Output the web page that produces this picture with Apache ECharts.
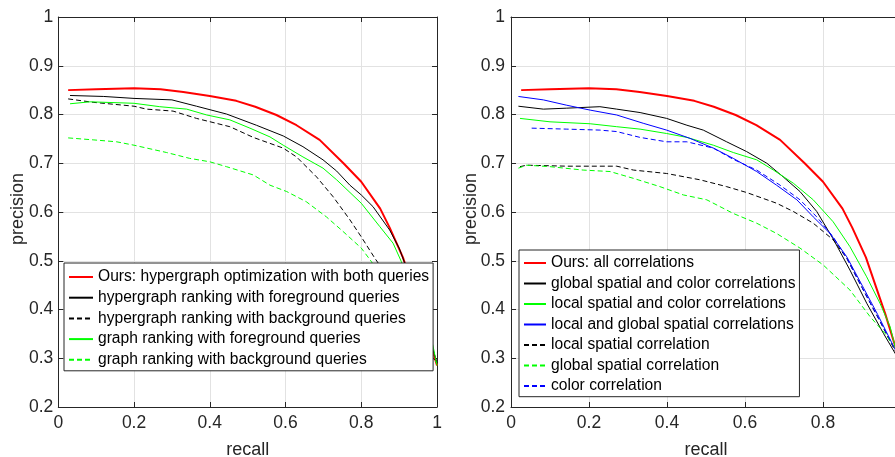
<!DOCTYPE html>
<html><head><meta charset="utf-8">
<script src="https://cdn.jsdelivr.net/npm/echarts/dist/echarts.min.js"></script>
<style>html,body{margin:0;padding:0;background:#fff}#c{width:895px;height:457px}</style>
</head><body><div id="c"></div>
<script>
// ---- data: [recall, precision] pairs ----
const oursBoth = [[0.026,0.850],[0.10,0.852],[0.2,0.854],[0.27,0.852],[0.33,0.846],[0.40,0.838],[0.47,0.828],[0.52,0.816],[0.576,0.799],[0.629,0.778],[0.69,0.748],[0.753,0.70],[0.80,0.662],[0.85,0.607],[0.875,0.568],[0.91,0.507],[0.96,0.39],[0.985,0.325],[1.0,0.285]];
const hyperFg = [[0.031,0.839],[0.12,0.837],[0.2,0.833],[0.30,0.830],[0.365,0.817],[0.444,0.801],[0.523,0.778],[0.594,0.756],[0.646,0.734],[0.699,0.707],[0.735,0.684],[0.77,0.655],[0.80,0.635],[0.831,0.611],[0.875,0.563],[0.90,0.526],[0.915,0.495],[0.95,0.41],[0.985,0.33],[1.0,0.29]];
const hyperBg = [[0.026,0.832],[0.092,0.825],[0.2,0.817],[0.233,0.811],[0.303,0.807],[0.365,0.792],[0.453,0.775],[0.515,0.753],[0.594,0.731],[0.629,0.713],[0.682,0.672],[0.726,0.631],[0.77,0.584],[0.80,0.549],[0.836,0.505],[0.845,0.495],[0.90,0.41],[0.95,0.34],[1.0,0.29]];
const graphFg = [[0.031,0.822],[0.084,0.826],[0.2,0.823],[0.268,0.816],[0.339,0.811],[0.392,0.799],[0.453,0.789],[0.506,0.772],[0.559,0.754],[0.594,0.737],[0.646,0.713],[0.699,0.69],[0.735,0.666],[0.80,0.618],[0.849,0.570],[0.884,0.536],[0.906,0.498],[0.95,0.41],[0.989,0.327],[1.0,0.285]];
const graphBg = [[0.026,0.752],[0.092,0.748],[0.154,0.744],[0.2,0.737],[0.286,0.722],[0.347,0.710],[0.40,0.703],[0.444,0.693],[0.515,0.676],[0.559,0.655],[0.603,0.642],[0.655,0.621],[0.708,0.590],[0.752,0.560],[0.80,0.526],[0.827,0.498],[0.90,0.40],[0.95,0.34],[1.0,0.29]];

const oursAll = oursBoth;
const globalSpatialColor = [[0.019,0.817],[0.083,0.811],[0.143,0.813],[0.228,0.816],[0.271,0.811],[0.331,0.804],[0.399,0.792],[0.451,0.778],[0.493,0.768],[0.553,0.744],[0.604,0.724],[0.656,0.700],[0.698,0.672],[0.741,0.642],[0.784,0.601],[0.826,0.545],[0.869,0.481],[0.912,0.413],[0.955,0.351],[0.985,0.310],[1.0,0.29]];
const localSpatialColor = [[0.023,0.792],[0.1,0.785],[0.203,0.781],[0.271,0.775],[0.331,0.770],[0.399,0.761],[0.451,0.753],[0.519,0.737],[0.57,0.722],[0.63,0.707],[0.673,0.686],[0.724,0.659],[0.775,0.625],[0.826,0.580],[0.869,0.529],[0.912,0.467],[0.946,0.413],[0.972,0.365],[0.985,0.324],[1.0,0.30]];
const localGlobalSpatial = [[0.019,0.837],[0.083,0.830],[0.143,0.819],[0.203,0.809],[0.271,0.799],[0.339,0.782],[0.399,0.768],[0.459,0.751],[0.519,0.731],[0.57,0.710],[0.63,0.683],[0.681,0.655],[0.733,0.625],[0.775,0.590],[0.818,0.556],[0.861,0.508],[0.90,0.45],[0.94,0.39],[0.985,0.318],[1.0,0.295]];
const localSpatial = [[0.023,0.693],[0.04,0.696],[0.143,0.694],[0.271,0.694],[0.314,0.686],[0.399,0.679],[0.485,0.666],[0.553,0.652],[0.604,0.640],[0.681,0.618],[0.724,0.601],[0.775,0.577],[0.826,0.543],[0.861,0.505],[0.90,0.445],[0.94,0.385],[0.985,0.315],[1.0,0.29]];
const globalSpatial = [[0.019,0.690],[0.04,0.696],[0.1,0.693],[0.185,0.686],[0.254,0.683],[0.314,0.669],[0.382,0.652],[0.442,0.635],[0.502,0.625],[0.57,0.597],[0.63,0.577],[0.681,0.556],[0.741,0.526],[0.801,0.491],[0.869,0.440],[0.921,0.385],[0.96,0.35],[0.985,0.32],[1.0,0.30]];
const colorCorr = [[0.053,0.772],[0.143,0.770],[0.228,0.768],[0.271,0.765],[0.331,0.753],[0.399,0.744],[0.451,0.744],[0.519,0.731],[0.57,0.708],[0.63,0.686],[0.69,0.655],[0.741,0.625],[0.784,0.590],[0.826,0.549],[0.861,0.505],[0.90,0.445],[0.94,0.385],[0.985,0.318],[1.0,0.295]];

const leftNames = ['Ours: hypergraph optimization with both queries','hypergraph ranking with foreground queries','hypergraph ranking with background queries','graph ranking with foreground queries','graph ranking with background queries'];
const rightNames = ['Ours: all correlations','global spatial and color correlations','local spatial and color correlations','local and global spatial correlations','local spatial correlation','global spatial correlation','color correlation'];
const xTicks = ['0','0.2','0.4','0.6','0.8','1'];
const yTicks = ['0.2','0.3','0.4','0.5','0.6','0.7','0.8','0.9','1'];
const xTitle = 'recall';
const yTitle = 'precision';

// ---- styling ----
const FONT = '"Liberation Sans", Arial, Helvetica, sans-serif';
const AX = '#262626';
const DASH = [5, 3];
const fmtX = v => xTicks[Math.round(v / 0.2)] ?? '';
const fmtY = v => yTicks[Math.round((v - 0.2) / 0.1)] ?? '';

function xMain(g, gap) {
  return {type:'value', gridIndex:g, min:0, max:1, interval:0.2, position:'bottom',
    name:xTitle, nameLocation:'middle', nameGap:gap,
    nameTextStyle:{fontSize:18, color:AX, fontFamily:FONT},
    axisLine:{onZero:false, lineStyle:{color:AX, width:1}},
    axisTick:{inside:true, length:5, lineStyle:{color:AX}},
    axisLabel:{fontSize:17.5, color:AX, fontFamily:FONT, margin:7, formatter:fmtX, showMaxLabel:true, showMinLabel:true, hideOverlap:false},
    splitLine:{show:true, lineStyle:{color:'#e2e2e2', width:1}}};
}
function xTop(g) {
  return {type:'value', gridIndex:g, min:0, max:1, interval:0.2, position:'top',
    axisLine:{onZero:false, lineStyle:{color:AX, width:1}},
    axisTick:{inside:true, length:5, lineStyle:{color:AX}},
    axisLabel:{show:false}, splitLine:{show:false}};
}
function yMain(g, margin) {
  return {type:'value', gridIndex:g, min:0.2, max:1, interval:0.1, position:'left',
    axisLine:{show:true, onZero:false, lineStyle:{color:AX, width:1}},
    axisTick:{show:true, inside:true, length:5, lineStyle:{color:AX}},
    axisLabel:{fontSize:17.5, color:AX, fontFamily:FONT, margin:margin, formatter:fmtY, showMaxLabel:true, showMinLabel:true},
    splitLine:{show:true, lineStyle:{color:'#e2e2e2', width:1}}};
}
function yRight(g) {
  return {type:'value', gridIndex:g, min:0.2, max:1, interval:0.1, position:'right',
    axisLine:{show:true, onZero:false, lineStyle:{color:AX, width:1}},
    axisTick:{show:true, inside:true, length:5, lineStyle:{color:AX}},
    axisLabel:{show:false}, splitLine:{show:false}};
}
function line(name, data, color, width, dashed, xi, yi) {
  return {type:'line', name, data, xAxisIndex:xi, yAxisIndex:yi, symbol:'none', smooth:false,
    clip:true, silent:true, animation:false, z:2,
    lineStyle:{color, width, type: dashed ? DASH : 'solid'}, itemStyle:{color}};
}
function legend(names, left, top, iw, gap, pad) {
  return {orient:'vertical', left, top, itemWidth:iw, itemHeight:14, itemGap:gap, padding:pad,
    backgroundColor:'#fff', borderColor:AX, borderWidth:1, borderRadius:0, selectedMode:false,
    itemStyle:{color:'transparent', borderColor:'transparent', borderWidth:0, opacity:0},
    textStyle:{fontSize:15.6, lineHeight:16, color:'#000', fontFamily:FONT},
    data:names, z:10};
}
function yName(x, y) {
  return {type:'text', x, y, rotation:Math.PI/2, silent:true,
    style:{text:yTitle, fontSize:18, fontFamily:FONT, fill:AX, align:'center', verticalAlign:'middle'}};
}

const chart = echarts.init(document.getElementById('c'), null, {renderer:'canvas'});
chart.setOption({
  animation:false,
  backgroundColor:'#fff',
  textStyle:{fontFamily:FONT},
  grid:[
    {left:58.3, top:17, width:378.7, height:390, containLabel:false, outerBoundsMode:'none'},
    {left:511, top:17, width:390, height:390, containLabel:false, outerBoundsMode:'none'}
  ],
  xAxis:[xMain(0, 34), xTop(0), xMain(1, 34), xTop(1)],
  yAxis:[yMain(0, 5), yRight(0), yMain(1, 6), yRight(1)],
  graphic:[yName(18.5, 209), yName(471, 209)],
  legend:[
    legend(leftNames, 64, 263, 24, 4.7, [6,4,3,4]),
    legend(rightNames, 519, 250, 22, 4.5, [5,4,2.7,4])
  ],
  series:[
    line(leftNames[0], oursBoth, '#ff0000', 2, false, 0, 0),
    line(leftNames[1], hyperFg, '#000000', 1, false, 0, 0),
    line(leftNames[2], hyperBg, '#000000', 1, true, 0, 0),
    line(leftNames[3], graphFg, '#00ff00', 1, false, 0, 0),
    line(leftNames[4], graphBg, '#00ff00', 1, true, 0, 0),
    line(rightNames[0], oursAll, '#ff0000', 2, false, 2, 2),
    line(rightNames[1], globalSpatialColor, '#000000', 1, false, 2, 2),
    line(rightNames[2], localSpatialColor, '#00ff00', 1, false, 2, 2),
    line(rightNames[3], localGlobalSpatial, '#0000ff', 1, false, 2, 2),
    line(rightNames[4], localSpatial, '#000000', 1, true, 2, 2),
    line(rightNames[5], globalSpatial, '#00ff00', 1, true, 2, 2),
    line(rightNames[6], colorCorr, '#0000ff', 1, true, 2, 2)
  ]
});
</script></body></html>
